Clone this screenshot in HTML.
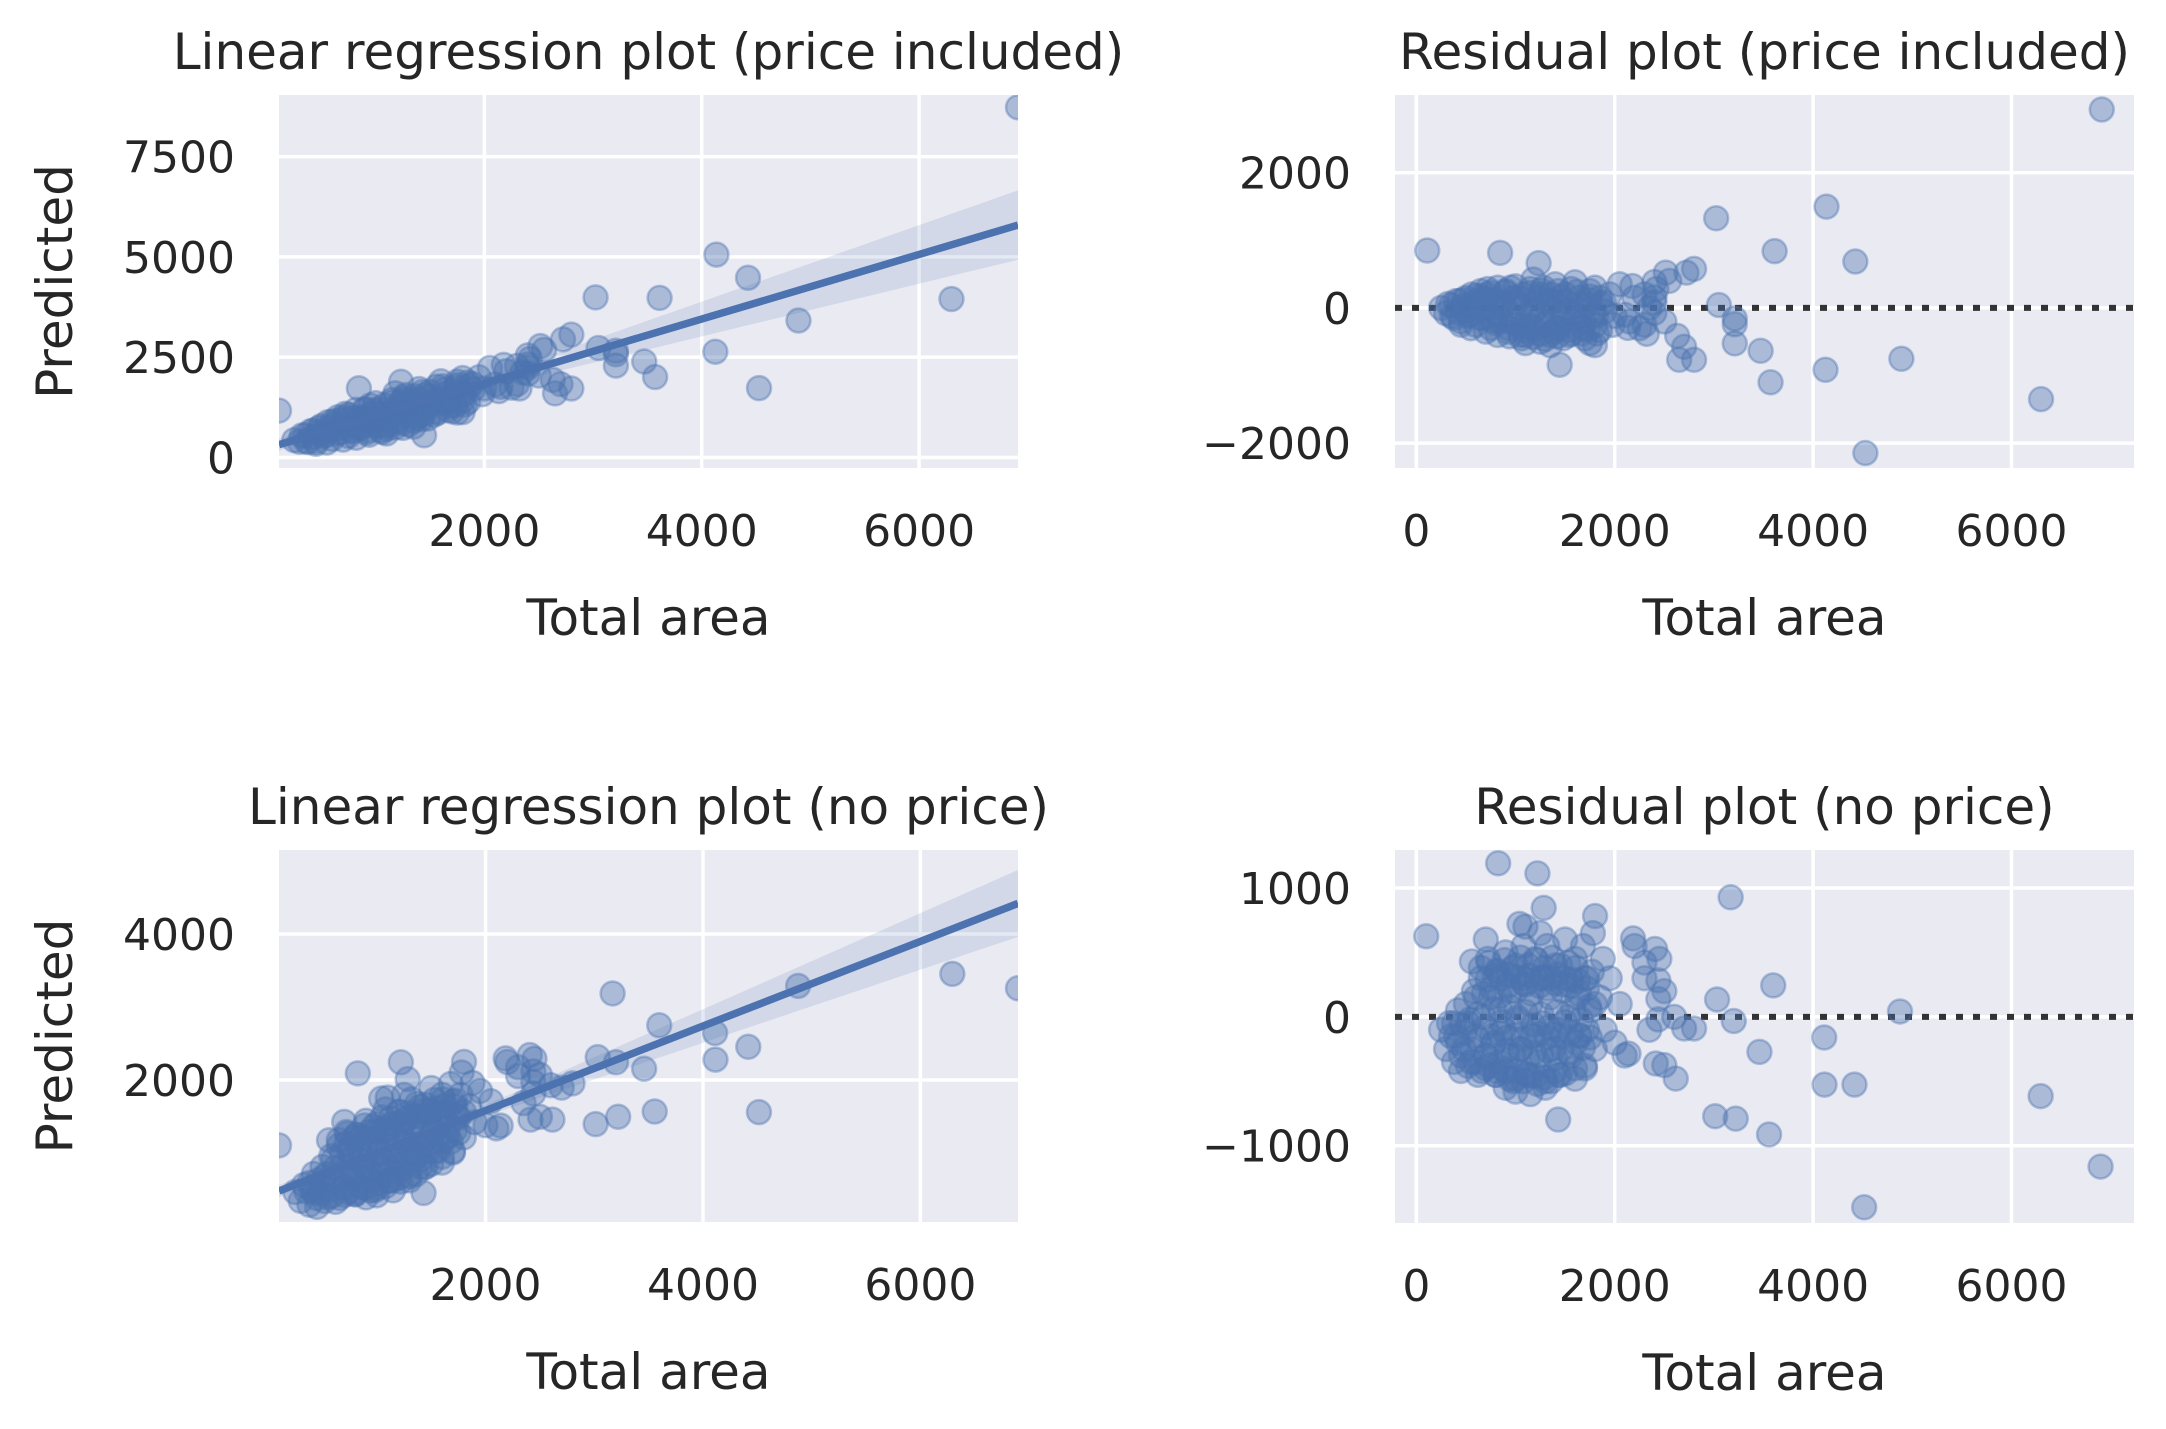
<!DOCTYPE html>
<html><head><meta charset="utf-8"><style>
html,body{margin:0;padding:0;background:#fff}
svg{display:block}
text{font-family:"DejaVu Sans","Liberation Sans",sans-serif;fill:#262626}
</style></head><body>
<svg id="fig" width="2166" height="1429" viewBox="0 0 2166 1429" xmlns="http://www.w3.org/2000/svg"></svg>
<script>
// ---- data: model with price included ----
const areaIncl = [250,300,320,380,400,450,470,500,520,560,580,600,620,650,680,700,720,750,780,800,820,850,880,900,920,950,980,1000,1020,1050,1080,1100,1120,1150,1180,1200,1230,1260,1280,1300,1330,1360,1380,1400,1430,1460,1500,1530,1560,1600,1640,1680,1720,1750,1780,1820,1850,1900,1950,1980,1100,1250,1350,1480,1700,1750,1800,1180,1400,1600,1800,2050,2100,2200,2250,2300,2350,2420,2500,2550,2300,
 110,3023,4135,3612,4426,6910,6298,4527,4890,4125,3571,3471,3210,3210,3210,3050,2800,2723,2630,2700,2800,2650,2515,2323,2133,2178,2400,2400,2400,1445,845,1233,
 350,420,480,540,600,660,720,780,840,900,960,1020,1080,1140,1200,1260,1320,1380,1440,1500,1560,1620,1680,1740,1800,1860,
 360,430,500,570,640,710,790,860,930,1010,1090,1170,1250,1330,1410,1490,1570,1650,1730,1810,1890,
 450,550,650,750,850,950,1050,1150,1250,1350,1450,1550,1650,1750,1850,
 700,820,940,1060,1180,1300,1420,1540,1660,2000,2150,2400];
const residIncl = [0,-80,60,-150,100,-200,20,150,-120,200,-30,-250,100,250,-150,0,280,-300,120,-80,300,-200,50,250,-350,-100,150,320,-250,0,200,-400,-150,280,50,-300,150,-100,300,-250,50,200,-350,-50,250,-200,100,-50,280,-150,150,-300,50,250,-100,-380,150,-50,200,-250,-520,-500,-550,-450,-450,-520,-550,420,350,380,300,350,-100,150,-300,200,0,280,-200,400,-250,
 850,1327,1498,840,686,2935,-1350,-2146,-752,-915,-1100,-634,-524,-242,-156,44,578,522,-413,-575,-767,-767,522,-383,-295,325,383,155,-74,-840,815,663,
 40,-60,120,-100,180,-20,200,-180,90,230,-200,150,-280,220,-30,260,-220,100,-300,200,-80,240,-200,120,-260,60,
 -120,100,-40,60,-150,130,-220,20,-300,80,-330,-60,-380,100,-300,-100,-380,30,-320,-120,80,
 -250,-300,170,230,-150,300,-400,-270,200,-400,160,-330,-120,170,-330,
 -350,-400,-420,-450,-430,-460,-420,-400,-380,-120,-200,80];
const fitIncl = [231, 0.805];          // intercept, slope
const ciIncl = [1100, 40, 269];        // centre x, min half-width, spread
// ---- data: model without price ----
const areaNo = [250,300,330,380,400,420,450,480,500,520,550,560,580,600,620,650,680,700,720,750,780,800,820,850,880,900,920,950,980,1000,1020,1050,1080,1100,1120,1150,1180,1200,1230,1260,1280,1300,1320,1350,1380,1400,1430,1450,1480,1500,1530,1560,1600,1620,1650,1680,1700,1720,1750,1780,1800,1850,1880,1900,1950,2000,1000,1150,1250,900,1600,700,1100,2050,2100,2200,2300,2350,2450,2500,2600,
 100,825,1221,3169,3598,4876,4112,4115,4417,6294,6898,4515,3556,3013,3220,3459,3032,3200,2700,2800,2414,2500,2615,2139,1430,2185,2407,2300,1802,1040,1284,2440,2440,2440,
 350,420,490,560,630,700,770,840,910,980,1050,1120,1190,1260,1330,1400,1470,1540,1610,1680,1750,
 380,460,540,620,700,780,860,940,1020,1100,1180,1260,1340,1420,1500,1580,1660,1740,
 600,680,760,840,920,1000,1080,1160,1240,1320,1400,1480,1560,1640,1720,
 650,730,810,890,970,1050,1130,1210,1290,1370,1450,1530,1610,
 700,800,900,1000,1100,1200,1300,1400,1500,1600,1700,
 450,520,590,660,730,800,870,940,1010,1080,1150,1220,1290,1360,1430,
 720,790,860,930,1000,1070,1140,1210,1280,1350,1420,1490,1560,1630,1700,1770,
 760,840,920,1000,1080,1160,1240,1320,1400,1480,1560,1640,1720,1800];
const residNo = [-100,-250,-50,-350,-150,50,-420,-250,100,-50,-350,430,200,-150,-450,300,0,-300,450,150,-200,-420,350,50,-100,500,-300,200,-500,400,0,-250,550,250,-450,100,-150,450,-350,300,-50,-550,550,150,-250,400,-100,-450,250,600,0,-300,450,150,-150,550,-400,300,50,650,-250,150,450,-100,300,-200,-580,-600,650,-550,-480,600,700,100,-300,550,300,-100,450,200,0,
 626,1192,1114,928,244,42,-160,-526,-526,-615,-1162,-1478,-913,-771,-790,-272,135,-32,-90,-90,-362,-375,-479,-285,-797,609,527,422,783,722,846,283,138,-20,
 -150,-200,-120,-250,-180,-300,-220,-350,-260,-300,-250,-320,-280,-300,-260,-320,-240,-280,-200,-240,-160,
 -50,-60,-20,20,-80,60,-40,80,-20,40,-60,20,-80,40,-40,60,-20,80,
 150,180,220,160,240,200,260,180,240,220,260,200,240,180,220,
 380,420,360,440,380,460,400,440,380,460,400,420,380,
 -400,-450,-420,-480,-440,-460,-500,-420,-440,-400,-380,
 -300,-380,-350,-420,-380,-450,-400,-480,-420,-500,-460,-520,-470,-500,-450,
 290,320,300,330,310,300,320,290,310,300,330,300,290,280,300,350,
 -150,-130,-160,-140,-170,-150,-130,-160,-140,-150,-120,-140,-100,100];
const fitNo = [421, 0.5795];
const ciNo = [1100, 25, 317];
// ---- tick labels ----
const ticksX1 = [2000,4000,6000];
const ticksY1 = [0,2500,5000,7500];
const ticksX2 = [0,2000,4000,6000];
const ticksY2 = [-2000,0,2000];
const ticksX3 = [2000,4000,6000];
const ticksY3 = [2000,4000];
const ticksX4 = [0,2000,4000,6000];
const ticksY4 = [-1000,0,1000];
const ylim1 = [-262, 9035];
const ylim2 = [-2368, 3150];
const ylim3 = [55, 5150];
const ylim4 = [-1600, 1295];
const xlimResid = [-215, 7235];

const NS = 'http://www.w3.org/2000/svg';
const svg = document.getElementById('fig');
const BLUE = '#4C72B0';
function mk(tag, attrs, parent){
  const e = document.createElementNS(NS, tag);
  for (const k in attrs) e.setAttribute(k, attrs[k]);
  (parent||svg).appendChild(e);
  return e;
}
function fmt(v){ return v < 0 ? '\u2212' + Math.abs(v) : String(v); }

function panel(cfg){
  const g = mk('g', {});
  
  
  const L=cfg.L, R=cfg.R, T=cfg.T, B=cfg.B;
  const sx = v => L + (v - cfg.xlim[0]) / (cfg.xlim[1]-cfg.xlim[0]) * (R-L);
  const sy = v => B - (v - cfg.ylim[0]) / (cfg.ylim[1]-cfg.ylim[0]) * (B-T);
  const bg = mk('rect', {x:L, y:T, width:R-L, height:B-T, fill:'#EAEAF2'}, g);
  
  
  cfg.xticks.forEach(t => {
    const x = sx(t);
    const gl = mk('line', {x1:x, x2:x, y1:T, y2:B, stroke:'#fff', 'stroke-width':3.5}, g);
    
    
    const tx = mk('text', {x:x, y:B+78, 'font-size':44, 'text-anchor':'middle'}, g);
    tx.textContent = fmt(t);
    
    
  });
  cfg.yticks.forEach(t => {
    const y = sy(t);
    const gl = mk('line', {x1:L, x2:R, y1:y, y2:y, stroke:'#fff', 'stroke-width':3.5}, g);
    
    
    const tx = mk('text', {x:L-44, y:y+16, 'font-size':44, 'text-anchor':'end'}, g);
    tx.textContent = fmt(t);
    
    
  });
  const clip = mk('clipPath', {id:cfg.name+'-clip'}, g);
  mk('rect', {x:L, y:T, width:R-L, height:B-T}, clip);
  const inner = mk('g', {'clip-path':'url(#'+cfg.name+'-clip)'}, g);
  const fit = cfg.fit, ci = cfg.ci, area = cfg.area, res = cfg.resid;
  const xmin = Math.min(...area), xmax = Math.max(...area);
  if (cfg.kind === 'resid') {
    const zl = mk('line', {x1:L, x2:R, y1:sy(0), y2:sy(0), stroke:'#333', 'stroke-width':6, 'stroke-dasharray':'7 10'}, inner);
    
    
  }
  const yOf = i => cfg.kind === 'reg' ? fit[0] + fit[1]*area[i] + res[i] : res[i];
  for (let i=0;i<area.length;i++){
    const c = mk('circle', {cx:sx(area[i]), cy:sy(yOf(i)), r:12, fill:BLUE, 'fill-opacity':0.4, stroke:BLUE, 'stroke-opacity':0.4, 'stroke-width':2.5}, inner);
    
    
  }
  if (cfg.kind === 'reg') {
    const N = 60, up = [], lo = [];
    for (let k=0;k<=N;k++){
      const x = xmin + (xmax-xmin)*k/N;
      const h = ci[1]*Math.sqrt(1 + Math.pow((x-ci[0])/ci[2],2));
      const m = fit[0]+fit[1]*x;
      up.push(sx(x)+','+sy(m+h)); lo.unshift(sx(x)+','+sy(m-h));
    }
    const band = mk('polygon', {points: up.concat(lo).join(' '), fill:BLUE, 'fill-opacity':0.15}, inner);
    
    
    const ln = mk('line', {x1:sx(xmin), y1:sy(fit[0]+fit[1]*xmin), x2:sx(xmax), y2:sy(fit[0]+fit[1]*xmax), stroke:BLUE, 'stroke-width':7.5}, inner);
    
    
  }
  const ti = mk('text', {x:(L+R)/2, y:cfg.T-26, 'font-size':50, 'text-anchor':'middle'}, g);
  ti.textContent = cfg.title;
  
  
  const xl = mk('text', {x:(L+R)/2, y:B+167, 'font-size':50, 'text-anchor':'middle'}, g);
  xl.textContent = 'Total area';
  
  
  if (cfg.ylabel) {
    const cy = (T+B)/2;
    const yl = mk('text', {x:72, y:cy, 'font-size':50, 'text-anchor':'middle', transform:'rotate(-90 72 '+cy+')'}, g);
    yl.textContent = cfg.ylabel;
    
    
  }
}

function dataXlim(a){ return [Math.min(...a), Math.max(...a)]; }

panel({name:'regression-price-included', kind:'reg', L:279, R:1018, T:95, B:468,
  xlim:dataXlim(areaIncl), ylim:ylim1, xticks:ticksX1, yticks:ticksY1,
  area:areaIncl, resid:residIncl, fit:fitIncl, ci:ciIncl,
  title:'Linear regression plot (price included)', ylabel:'Predicted'});
panel({name:'residual-price-included', kind:'resid', L:1395, R:2134, T:95, B:468,
  xlim:xlimResid, ylim:ylim2, xticks:ticksX2, yticks:ticksY2,
  area:areaIncl, resid:residIncl, fit:fitIncl, ci:ciIncl,
  title:'Residual plot (price included)'});
panel({name:'regression-no-price', kind:'reg', L:279, R:1018, T:850, B:1222,
  xlim:dataXlim(areaNo), ylim:ylim3, xticks:ticksX3, yticks:ticksY3,
  area:areaNo, resid:residNo, fit:fitNo, ci:ciNo,
  title:'Linear regression plot (no price)', ylabel:'Predicted'});
panel({name:'residual-no-price', kind:'resid', L:1395, R:2134, T:850, B:1223,
  xlim:xlimResid, ylim:ylim4, xticks:ticksX4, yticks:ticksY4,
  area:areaNo, resid:residNo, fit:fitNo, ci:ciNo,
  title:'Residual plot (no price)'});
</script>
</body></html>
